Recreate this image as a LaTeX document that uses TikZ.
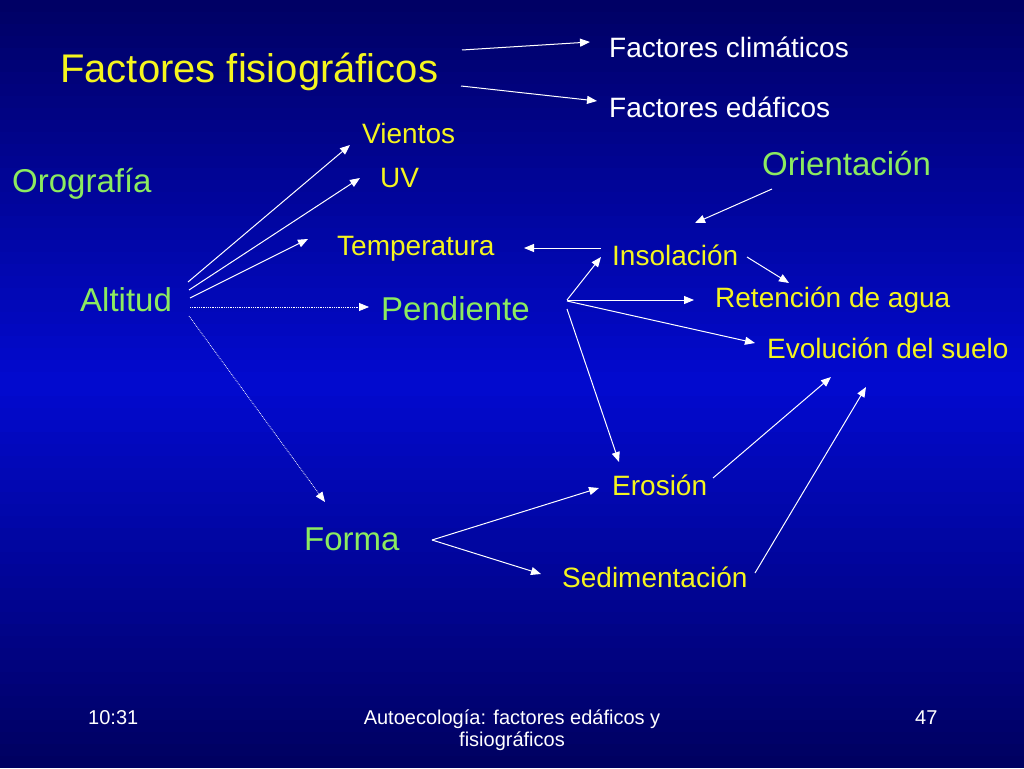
\documentclass[tikz,border=0pt]{standalone}
\usepackage{fontspec}
\setmainfont{Liberation Sans}
\usetikzlibrary{arrows.meta}
\definecolor{bgtop}{RGB}{0,0,100}
\definecolor{bgmid}{RGB}{2,10,208}
\definecolor{bgbot}{RGB}{0,0,96}
\definecolor{txtyel}{RGB}{245,245,30}
\definecolor{txtgrn}{RGB}{140,235,95}
\tikzset{
	lbl/.style={inner sep=0pt, anchor=base west},
	ttl/.style={lbl, text=txtyel, font=\fontsize{40}{48}\selectfont},
	yel/.style={lbl, text=txtyel, font=\fontsize{28}{33}\selectfont},
	grn/.style={lbl, text=txtgrn, font=\fontsize{33}{40}\selectfont},
	wht/.style={lbl, text=white, font=\fontsize{28}{33}\selectfont},
	foot/.style={inner sep=0pt, text=white, font=\fontsize{20}{22}\selectfont},
	arr/.style={white, line width=1pt, -{Triangle[length=10pt,width=8pt]}},
	arrdot/.style={arr, line width=0.8pt, densely dotted}
}
\begin{document}
\begin{tikzpicture}[x=1pt,y=-1pt]
	\useasboundingbox (0,0) rectangle (1024,768);
	% fondo degradado
	\foreach \i in {0,...,31} {
		\pgfmathtruncatemacro{\p}{100*(\i+0.5)/32}
		\fill [bgmid!\p!bgtop] (0,\i*12) rectangle (1024,\i*12+12.5);
		\fill [bgmid!\p!bgbot] (0,768-\i*12-12.5) rectangle (1024,768-\i*12);
	}
	% textos
	\node [ttl] (tit) at (60,82) {Factores fisiográficos};
	\node [wht] (fcli) at (609,58) {Factores climáticos};
	\node [wht] (feda) at (609,117) {Factores edáficos};
	\node [yel] (vie) at (362,143) {Vientos};
	\node [yel] (uv) at (380,187) {UV};
	\node [grn] (oro) at (12,192) {Orografía};
	\node [yel] (tem) at (337,255) {Temperatura};
	\node [grn] (alt) at (80,311) {Altitud};
	\node [grn] (pen) at (381,320) {Pendiente};
	\node [grn] (ori) at (762,175) {Orientación};
	\node [yel] (ins) at (612,265) {Insolación};
	\node [yel] (ret) at (715,307) {Retención de agua};
	\node [yel] (evo) at (767,358) {Evolución del suelo};
	\node [yel] (ero) at (612,495) {Erosión};
	\node [grn] (for) at (304,550) {Forma};
	\node [yel] (sed) at (562,587) {Sedimentación};
	% pie
	\node [foot, anchor=base west] (hora) at (88,724) {10:31};
	\node [foot, anchor=base west] (num) at (915,724) {47};
	\node [foot, anchor=base, align=center] (pie) at (512,746) {Autoecología: factores edáficos y\\fisiográficos};
	% flechas
	\draw [arr] ([shift={(402,-32)}]tit.base west) -- ([shift={(-19,-16)}]fcli.base west);
	\draw [arr] ([shift={(401,4)}]tit.base west) -- ([shift={(-12,-16)}]feda.base west);
	\draw [arr] ([shift={(108,-29)}]alt.base west) -- ([shift={(-12,2)}]vie.base west);
	\draw [arr] ([shift={(109,-21)}]alt.base west) -- ([shift={(-20,-9)}]uv.base west);
	\draw [arr] ([shift={(110,-13)}]alt.base west) -- ([shift={(-29,-16)}]tem.base west);
	\draw [arrdot] ([shift={(110,-4)}]alt.base west) -- ([shift={(-12,-13)}]pen.base west);
	\draw [arrdot] ([shift={(109,5)}]alt.base west) -- ([shift={(21,-48)}]for.base west);
	\draw [arr] ([shift={(10,14)}]ori.base west) -- ([shift={(83,-42)}]ins.base west);
	\draw [arr] ([shift={(-11,-17)}]ins.base west) -- ([shift={(187,-7)}]tem.base west);
	\draw [arr] ([shift={(135,-8)}]ins.base west) -- ([shift={(74,-24)}]ret.base west);
	\draw [arr] ([shift={(186,-20)}]pen.base west) -- ([shift={(-11,-8)}]ins.base west);
	\draw [arr] ([shift={(186,-20)}]pen.base west) -- ([shift={(-21,-7)}]ret.base west);
	\draw [arr] ([shift={(186,-19)}]pen.base west) -- ([shift={(-12,-15)}]evo.base west);
	\draw [arr] ([shift={(186,-11)}]pen.base west) -- ([shift={(7,-33)}]ero.base west);
	\draw [arr] ([shift={(101,-17)}]ero.base west) -- ([shift={(64,19)}]evo.base west);
	\draw [arr] ([shift={(193,-14)}]sed.base west) -- ([shift={(99,29)}]evo.base west);
	\draw [arr] ([shift={(128,-10)}]for.base west) -- ([shift={(-13,-7)}]ero.base west);
	\draw [arr] ([shift={(128,-10)}]for.base west) -- ([shift={(-21,-13)}]sed.base west);
\end{tikzpicture}
\end{document}
